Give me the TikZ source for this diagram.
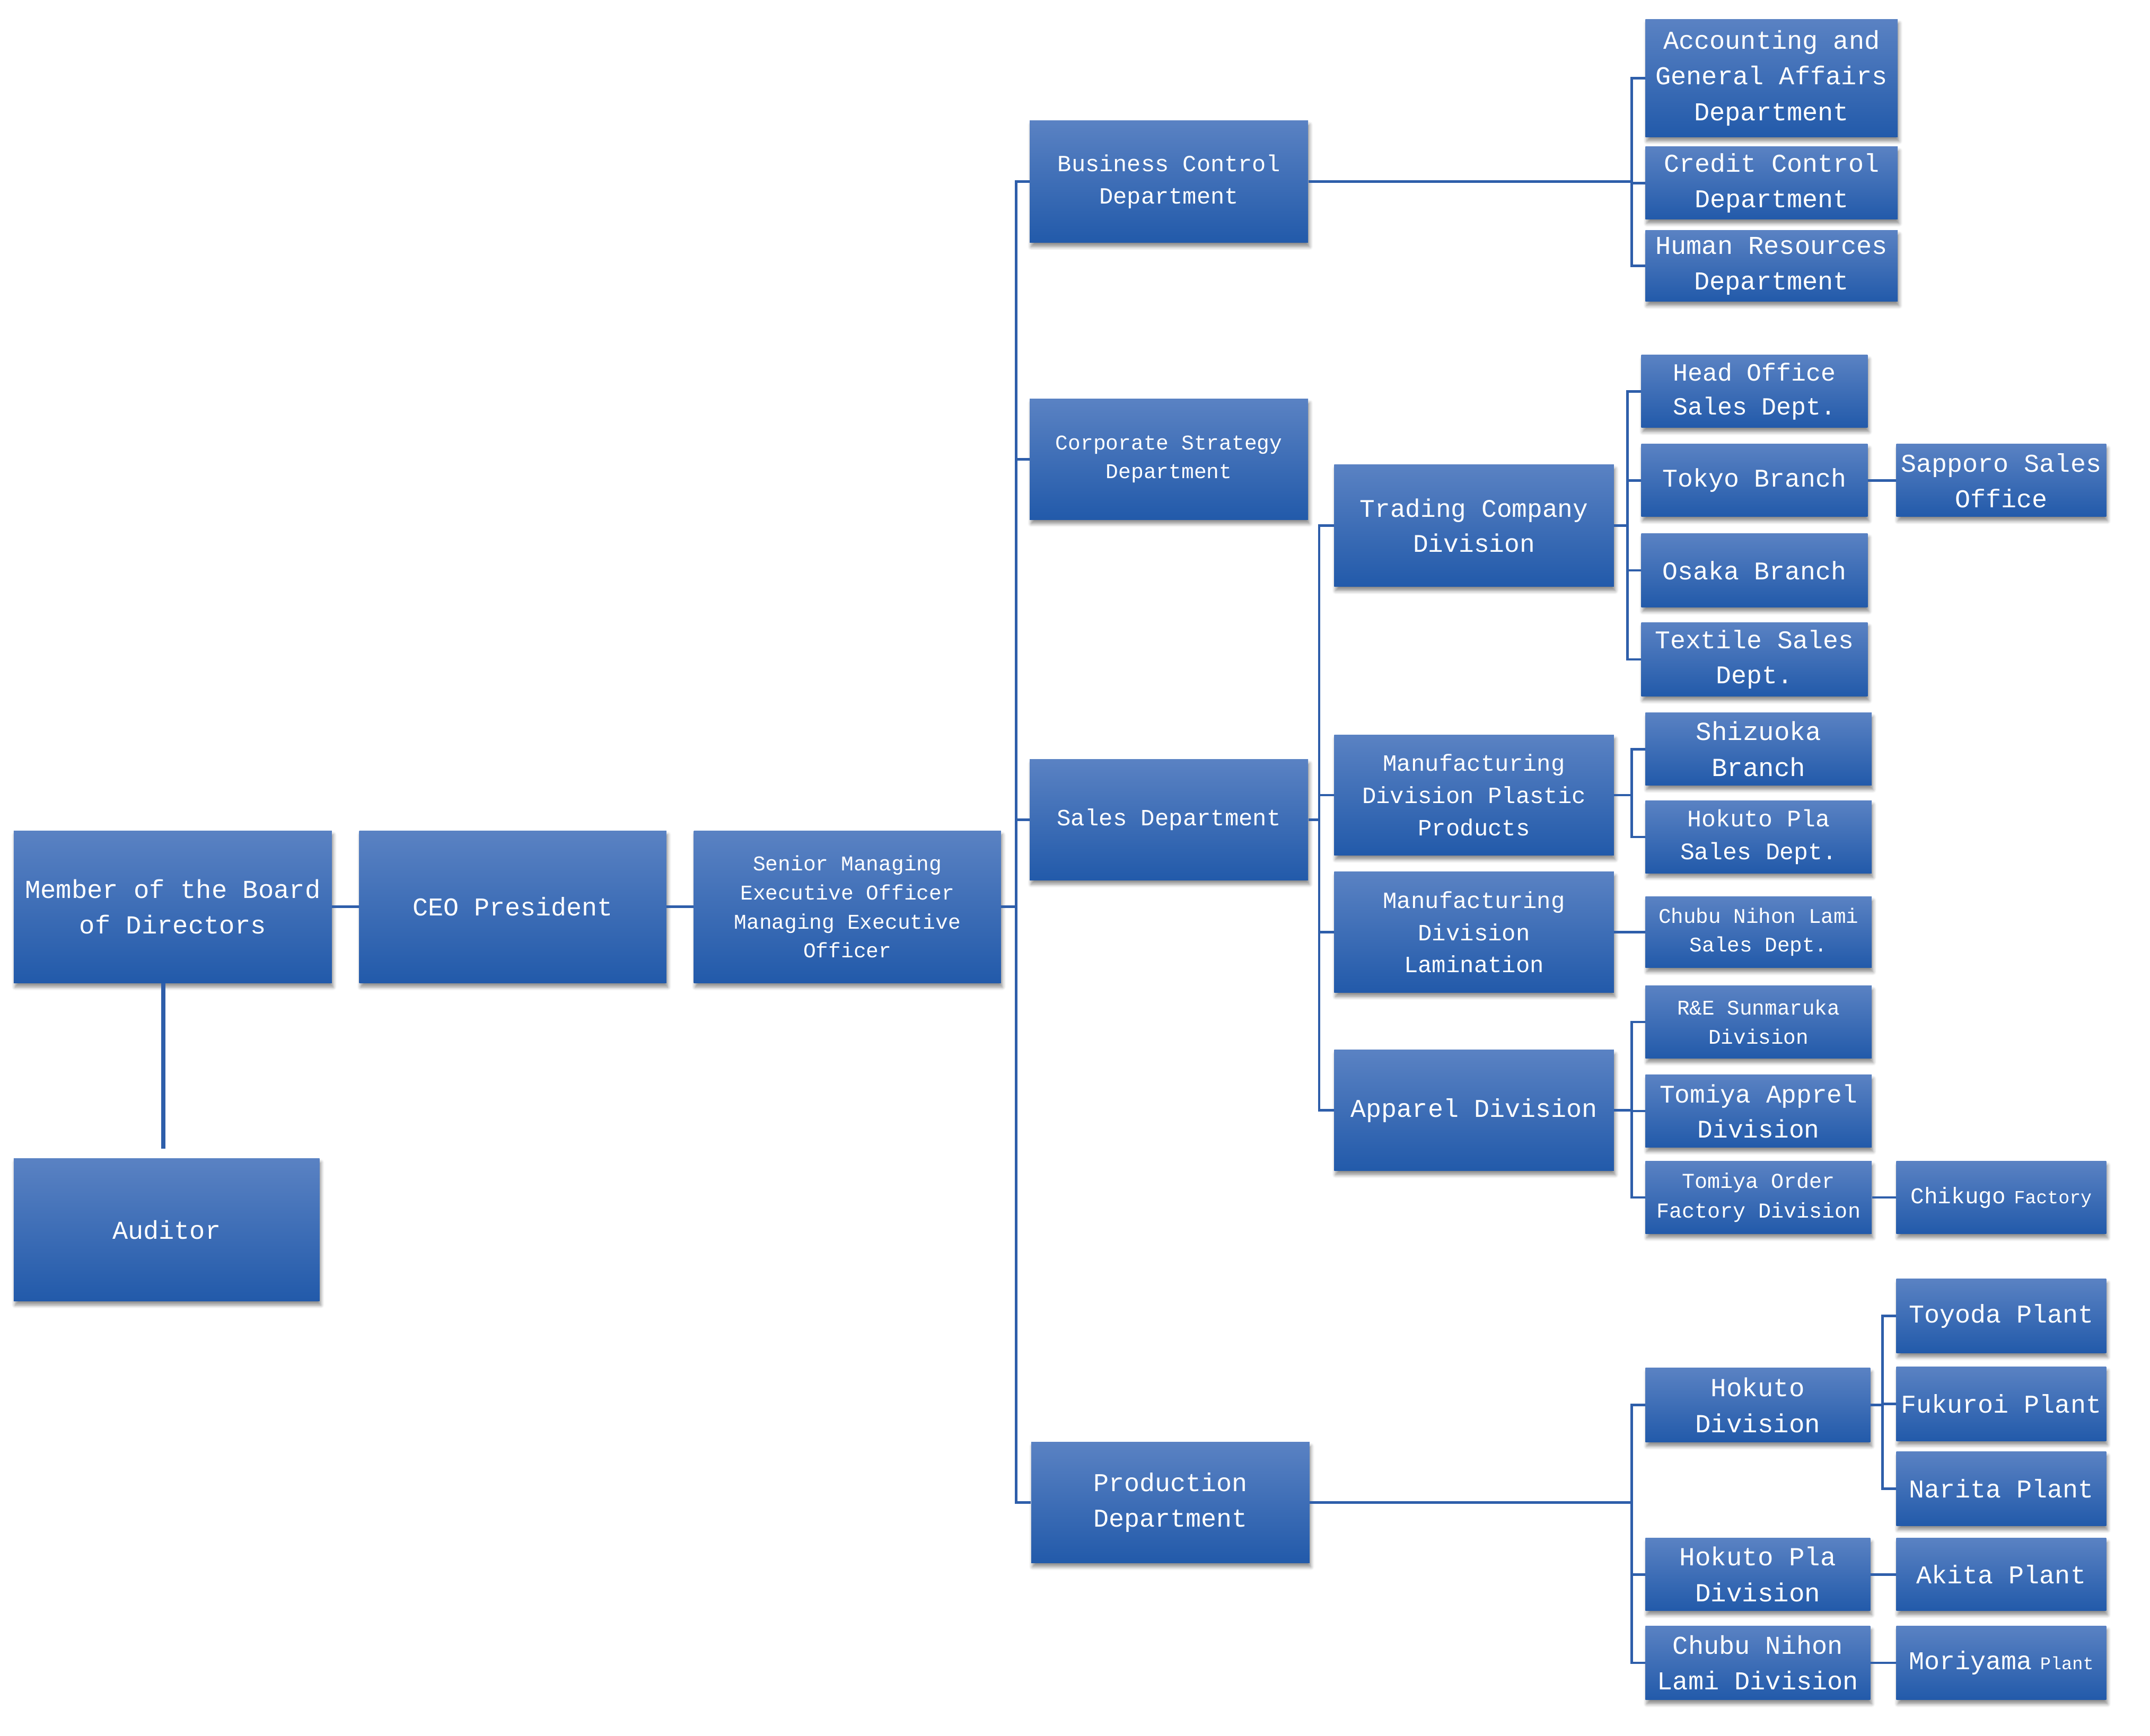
\documentclass[tikz,border=0pt]{standalone}
\usepackage{fontspec}
\setmainfont{Liberation Mono}
\usepackage{tikz}
\usetikzlibrary{shadows,shadows.blur}
\definecolor{boxtop}{RGB}{90,130,195}
\definecolor{boxbot}{RGB}{34,90,170}
\definecolor{linkblue}{RGB}{46,94,170}
\newcommand{\fsz}[1]{\fontsize{#1}{\fpeval{1.38*#1}}\selectfont}

\begin{document}
\begin{tikzpicture}[x=1pt,y=-1pt,
  orgbox/.style={rectangle, inner sep=0pt, align=center, text=white,
    top color=boxtop, bottom color=boxbot, draw=none,
    blur shadow={shadow xshift=1pt, shadow yshift=-3pt, shadow blur radius=2.5pt,
      shadow blur steps=6, shadow opacity=45}},
  boxdim/.style 2 args={minimum width=#1pt, minimum height=#2pt},
  fs/.style={font=\fsz{#1}},
  link/.style={draw=linkblue, line width=1.8pt}]
\useasboundingbox (0,0) rectangle (1568,1266);
% top of the chart:
\node[orgbox, boxdim={232}{111}, fs=18.9] (board) at (126,661.5) {Member of the Board\\of Directors};
\node[orgbox, boxdim={224}{111}, fs=18.7] (ceo) at (374,661.5) {CEO President};
\node[orgbox, boxdim={224}{111}, fs=15.3] (senior) at (618,661.5) {Senior Managing\\Executive Officer\\Managing Executive\\Officer};
\node[orgbox, boxdim={223}{104}, fs=18.8] (auditor) at (121.5,897) {Auditor};
% departments:
\node[orgbox, boxdim={203}{89}, fs=16.9] (bizctl) at (852.5,132.5) {Business Control\\Department};
\node[orgbox, boxdim={203}{88}, fs=15.3] (corp) at (852.5,335) {Corporate Strategy\\Department};
\node[orgbox, boxdim={203}{88}, fs=17] (sales) at (852.5,598) {Sales Department};
\node[orgbox, boxdim={203}{88}, fs=18.7] (prod) at (853.5,1096) {Production\\Department};
% business control:
\node[orgbox, boxdim={184}{86}, fs=18.8] (acct) at (1292,57) {Accounting and\\General Affairs\\Department};
\node[orgbox, boxdim={184}{53}, fs=18.7] (credit) at (1292,133.5) {Credit Control\\Department};
\node[orgbox, boxdim={184}{52}, fs=18.8] (hr) at (1292,194) {Human Resources\\Department};
% sales divisions:
\node[orgbox, boxdim={204}{89}, fs=18.5] (trading) at (1075,383.5) {Trading Company\\Division};
\node[orgbox, boxdim={204}{88}, fs=17] (mfgpla) at (1075,580) {Manufacturing\\Division Plastic\\Products};
\node[orgbox, boxdim={204}{88}, fs=17] (mfglam) at (1075,680) {Manufacturing\\Division\\Lamination};
\node[orgbox, boxdim={204}{88}, fs=18.7] (apparel) at (1075,810) {Apparel Division};
% trading company:
\node[orgbox, boxdim={165}{53}, fs=18] (headoff) at (1279.5,285.5) {Head Office\\Sales Dept.};
\node[orgbox, boxdim={165}{53}, fs=18.6] (tokyo) at (1279.5,350.5) {Tokyo Branch};
\node[orgbox, boxdim={165}{54}, fs=18.6] (osaka) at (1279.5,416) {Osaka Branch};
\node[orgbox, boxdim={165}{54}, fs=18.6] (textile) at (1279.5,481) {Textile Sales\\Dept.};
\node[orgbox, boxdim={153}{53}, fs=18.7] (sapporo) at (1459.5,350.5) {Sapporo Sales\\Office};
% manufacturing and apparel:
\node[orgbox, boxdim={165}{53}, fs=19] (shizuoka) at (1282.5,546.5) {Shizuoka\\Branch};
\node[orgbox, boxdim={165}{53}, fs=17.3] (hplasales) at (1282.5,610.5) {Hokuto Pla\\Sales Dept.};
\node[orgbox, boxdim={165}{52}, fs=15.2] (chubusales) at (1282.5,680) {Chubu Nihon Lami\\Sales Dept.};
\node[orgbox, boxdim={165}{53}, fs=15.2] (resun) at (1282.5,745.5) {R\&E Sunmaruka\\Division};
\node[orgbox, boxdim={165}{53}, fs=18.5] (tomiyaap) at (1282.5,810.5) {Tomiya Apprel\\Division};
\node[orgbox, boxdim={165}{53}, fs=15.5] (tomiyaord) at (1282.5,873.5) {Tomiya Order\\Factory Division};
\node[orgbox, boxdim={153}{53}] (chikugo) at (1459.5,873.5) {{\fsz{16.5}Chikugo} {\fsz{13.5}Factory}};
% production:
\node[orgbox, boxdim={164}{54}, fs=19] (hokutodiv) at (1282,1025) {Hokuto\\Division};
\node[orgbox, boxdim={164}{53}, fs=19] (hpladiv) at (1282,1148.5) {Hokuto Pla\\Division};
\node[orgbox, boxdim={164}{54}, fs=18.8] (chubudiv) at (1282,1213) {Chubu Nihon\\Lami Division};
\node[orgbox, boxdim={153}{54}, fs=18.7] (toyoda) at (1459.5,960) {Toyoda Plant};
\node[orgbox, boxdim={153}{54}, fs=18.7] (fukuroi) at (1459.5,1024) {Fukuroi Plant};
\node[orgbox, boxdim={153}{54}, fs=18.7] (narita) at (1459.5,1086) {Narita Plant};
\node[orgbox, boxdim={153}{53}, fs=18.7] (akita) at (1459.5,1148.5) {Akita Plant};
\node[orgbox, boxdim={153}{54}] (moriyama) at (1459.5,1213) {{\fsz{18.7}Moriyama} {\fsz{13}Plant}};
% trunks:
\coordinate (taudit) at (119,838);
\coordinate (tsenior) at (741,661.5);
\coordinate (tbiz) at (1190,132.5);
\coordinate (tsales) at (962,598);
\coordinate (ttrading) at (1187,383.5);
\coordinate (tmfgpla) at (1190,580);
\coordinate (tapparel) at (1190,810);
\coordinate (tprod) at (1190,1096);
\coordinate (thokuto) at (1373,1025);
% links:
\draw[draw=linkblue, line width=3pt] (board.south -| taudit) -- (taudit);
\draw[link] (board) -- (ceo);
\draw[link] (ceo) -- (senior);
\foreach \n in {bizctl,corp,sales,prod}
  \draw[link] (senior.east) -- (tsenior) |- (\n.west);
\foreach \n in {acct,credit,hr}
  \draw[link] (bizctl.east) -- (tbiz) |- (\n.west);
\foreach \n in {trading,mfgpla,mfglam,apparel}
  \draw[link] (sales.east) -- (tsales) |- (\n.west);
\foreach \n in {headoff,tokyo,osaka,textile}
  \draw[link] (trading.east) -- (ttrading) |- (\n.west);
\foreach \n in {shizuoka,hplasales}
  \draw[link] (mfgpla.east) -- (tmfgpla) |- (\n.west);
\draw[link] (mfglam) -- (chubusales);
\foreach \n in {resun,tomiyaap,tomiyaord}
  \draw[link] (apparel.east) -- (tapparel) |- (\n.west);
\foreach \n in {hokutodiv,hpladiv,chubudiv}
  \draw[link] (prod.east) -- (tprod) |- (\n.west);
\foreach \n in {toyoda,fukuroi,narita}
  \draw[link] (hokutodiv.east) -- (thokuto) |- (\n.west);
\draw[link] (tokyo) -- (sapporo);
\draw[link] (tomiyaord) -- (chikugo);
\draw[link] (hpladiv) -- (akita);
\draw[link] (chubudiv) -- (moriyama);
\end{tikzpicture}
\end{document}
